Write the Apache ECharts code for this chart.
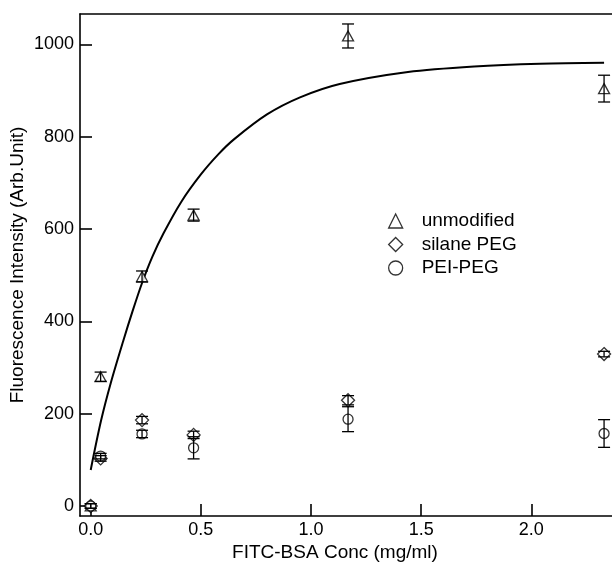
<!DOCTYPE html>
<html>
<head>
<meta charset="utf-8">
<script src="https://cdn.jsdelivr.net/npm/echarts@6/dist/echarts.min.js"></script>
<style>html,body{margin:0;padding:0;background:#fff}#c{width:612px;height:565px}</style>
</head>
<body>
<div id="c"></div>
<script>
// ---- data ----
const conc = [0, 0.045, 0.233, 0.467, 1.168, 2.33];
const unmodified = [0, 280, 497, 630, 1018, 904];
const unmodifiedErr = [0, 10, 12, 13, 26, 29];
const silanePEG = [0, 103, 186, 154, 229, 329];
const silanePEGErr = [5, 6, 8, 8, 10, 6];
const peiPEG = [0, 108, 156, 126, 188, 157];
const peiPEGErr = [5, 6, 8, 24, 27, 30];
// fitted curve
const fitX = [0, 0.047, 0.092, 0.148, 0.19, 0.233, 0.28, 0.33, 0.41, 0.5, 0.58, 0.65, 0.8, 0.95, 1.13, 1.44, 1.74, 2.04, 2.33];
const fitY = [78, 185, 268, 358, 422, 483, 540, 590, 658, 718, 762, 794, 848, 885, 914, 940, 952, 958, 960];
const xTicks = [0, 0.5, 1.0, 1.5, 2.0];
const yTicks = [0, 200, 400, 600, 800, 1000];
const seriesNames = ['unmodified', 'silane PEG', 'PEI-PEG'];

const FONT = 'Liberation Sans, Arial, Helvetica, sans-serif';
const X_MIN = -0.0486, X_MAX = 2.366, Y_MIN = -21.7, Y_MAX = 1065.6;

function pts(xs, ys) { return xs.map((x, i) => [x, ys[i]]); }
function errPts(xs, ys, es) { return xs.map((x, i) => [x, ys[i], es[i]]); }

function errRender(params, api) {
  const x = api.value(0), y = api.value(1), e = api.value(2);
  if (!e) return null;
  const top = api.coord([x, y + e]);
  const bot = api.coord([x, y - e]);
  const hw = 6;
  const st = { stroke: '#000', lineWidth: 1.3 };
  return {
    type: 'group',
    children: [
      { type: 'line', shape: { x1: top[0], y1: top[1], x2: bot[0], y2: bot[1] }, style: st },
      { type: 'line', shape: { x1: top[0] - hw, y1: top[1], x2: top[0] + hw, y2: top[1] }, style: st },
      { type: 'line', shape: { x1: bot[0] - hw, y1: bot[1], x2: bot[0] + hw, y2: bot[1] }, style: st }
    ]
  };
}

const hollow = { color: '#fff', borderColor: '#000', borderWidth: 1.3 };

const chart = echarts.init(document.getElementById('c'), null, { renderer: 'canvas' });
chart.setOption({
  animation: false,
  backgroundColor: '#fff',
  textStyle: { fontFamily: FONT },
  grid: { left: 80, right: 0, top: 14, bottom: 49, containLabel: false, outerBoundsMode: 'none' },
  legend: {
    orient: 'vertical',
    left: 383,
    top: 206,
    itemWidth: 14,
    itemHeight: 14,
    itemGap: 3.5,
    textStyle: { fontSize: 19, color: '#000', fontFamily: FONT, lineHeight: 20, padding: [0, 0, 0, 14] },
    data: [
      { name: seriesNames[0], icon: 'triangle', itemStyle: hollow },
      { name: seriesNames[1], icon: 'diamond', itemStyle: hollow },
      { name: seriesNames[2], icon: 'circle', itemStyle: hollow }
    ]
  },
  xAxis: [{
    type: 'value', min: X_MIN, max: X_MAX,
    name: 'FITC-BSA Conc (mg/ml)', nameLocation: 'middle', nameGap: 27, nameMoveOverlap: false,
    nameTextStyle: { fontSize: 19, color: '#000', fontFamily: FONT, padding: [0, 22, 0, 0] },
    axisLine: { show: true, onZero: false, lineStyle: { color: '#000', width: 1.6 } },
    axisTick: { show: true, inside: true, length: 12, lineStyle: { color: '#000', width: 1.6 }, customValues: xTicks },
    axisLabel: { show: true, fontSize: 18, color: '#000', fontFamily: FONT, margin: 5, customValues: xTicks, formatter: v => v.toFixed(1) },
    splitLine: { show: false }
  }, {
    type: 'value', min: X_MIN, max: X_MAX, position: 'top',
    axisLine: { show: true, onZero: false, lineStyle: { color: '#000', width: 1.6 } },
    axisTick: { show: false }, axisLabel: { show: false }, splitLine: { show: false }
  }],
  yAxis: {
    type: 'value', min: Y_MIN, max: Y_MAX,
    name: 'Fluorescence Intensity (Arb.Unit)', nameLocation: 'middle', nameGap: 53, nameRotate: 90, nameMoveOverlap: false,
    nameTextStyle: { fontSize: 19, color: '#000', fontFamily: FONT },
    axisLine: { show: true, onZero: false, lineStyle: { color: '#000', width: 1.6 } },
    axisTick: { show: true, inside: true, length: 12, lineStyle: { color: '#000', width: 1.6 }, customValues: yTicks },
    axisLabel: { show: true, fontSize: 18, color: '#000', fontFamily: FONT, margin: 6, customValues: yTicks, formatter: v => String(v) },
    splitLine: { show: false }
  },
  series: [
    {
      name: 'fit', type: 'line', data: pts(fitX, fitY), smooth: 0.3, showSymbol: false,
      lineStyle: { color: '#000', width: 2 }, itemStyle: { color: '#000' }, z: 2, silent: true
    },
    {
      name: seriesNames[0], type: 'scatter', data: pts(conc, unmodified),
      symbol: 'triangle', symbolSize: [11, 10], itemStyle: hollow, z: 3
    },
    {
      name: seriesNames[1], type: 'scatter', data: pts(conc, silanePEG),
      symbol: 'diamond', symbolSize: [13, 13], itemStyle: hollow, z: 3
    },
    {
      name: seriesNames[2], type: 'scatter', data: pts(conc, peiPEG),
      symbol: 'circle', symbolSize: 10, itemStyle: hollow, z: 3
    },
    { type: 'custom', name: 'err0', data: errPts(conc, unmodified, unmodifiedErr), renderItem: errRender, z: 4, silent: true },
    { type: 'custom', name: 'err1', data: errPts(conc, silanePEG, silanePEGErr), renderItem: errRender, z: 4, silent: true },
    { type: 'custom', name: 'err2', data: errPts(conc, peiPEG, peiPEGErr), renderItem: errRender, z: 4, silent: true }
  ]
});
</script>
</body>
</html>
